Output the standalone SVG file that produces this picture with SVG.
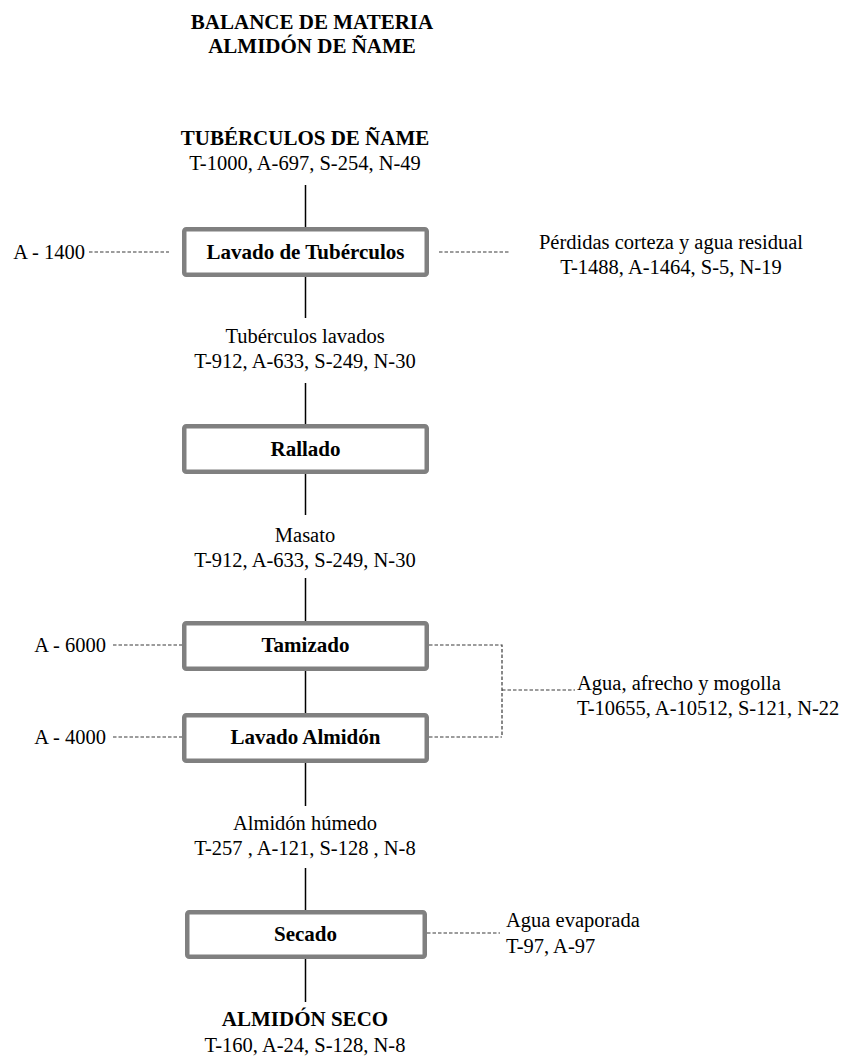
<svg xmlns="http://www.w3.org/2000/svg" width="843" height="1057" viewBox="0 0 843 1057">
<style>
text{font-family:"Liberation Serif","Times New Roman",serif;font-size:20.5px;fill:#000}
.b{font-weight:bold;font-size:21px}
.c{text-anchor:middle}
.e{text-anchor:end}
.box{fill:#fff;stroke:#808080;stroke-width:4.5}
.ln{stroke:#000;stroke-width:1.5;fill:none}
.ds{stroke:#3a3a3a;stroke-width:1.2;stroke-dasharray:3.5 2;fill:none}
</style>
<rect width="843" height="1057" fill="#fff"/>
<g id="title">
<text class="b c" x="312" y="29">BALANCE DE MATERIA</text>
<text class="b c" x="312" y="53">ALMIDÓN DE ÑAME</text>
</g>
<g id="connectors">
<path class="ln" d="M305.5 185V227M305.5 277V318M305.5 383V424M305.5 474V515M305.5 578V621M305.5 671V713M305.5 763V806M305.5 868V910M305.5 959V1002"/>
<path class="ds" d="M89 252H169M439 252H510M113 645H182M113 737H182M429 645H502V737M429 737H502M502 690H575M427 933H500"/>
</g>
<g id="input">
<text class="b c" x="305" y="145">TUBÉRCULOS DE ÑAME</text>
<text class="c" x="305" y="170">T-1000, A-697, S-254, N-49</text>
</g>
<g id="lavado-tuberculos">
<rect class="box" x="184.25" y="229.25" width="242.5" height="45.5" rx="2"/>
<text class="b c" x="305.5" y="259">Lavado de Tubérculos</text>
</g>
<g id="agua-1400"><text class="e" x="85" y="259">A - 1400</text></g>
<g id="perdidas">
<text class="c" x="671" y="249">Pérdidas corteza y agua residual</text>
<text class="c" x="671" y="274">T-1488, A-1464, S-5, N-19</text>
</g>
<g id="tuberculos-lavados">
<text class="c" x="305" y="343">Tubérculos lavados</text>
<text class="c" x="305" y="368">T-912, A-633, S-249, N-30</text>
</g>
<g id="rallado">
<rect class="box" x="184.25" y="426.25" width="242.5" height="45.5" rx="2"/>
<text class="b c" x="305.5" y="456">Rallado</text>
</g>
<g id="masato">
<text class="c" x="305" y="542">Masato</text>
<text class="c" x="305" y="567">T-912, A-633, S-249, N-30</text>
</g>
<g id="tamizado">
<rect class="box" x="184.25" y="623.25" width="242.5" height="45.5" rx="2"/>
<text class="b c" x="305.5" y="652">Tamizado</text>
</g>
<g id="agua-6000"><text class="e" x="106" y="652">A - 6000</text></g>
<g id="lavado-almidon">
<rect class="box" x="184.25" y="715.25" width="242.5" height="45.5" rx="2"/>
<text class="b c" x="305.5" y="744">Lavado Almidón</text>
</g>
<g id="agua-4000"><text class="e" x="106" y="744">A - 4000</text></g>
<g id="afrecho">
<text x="577" y="690">Agua, afrecho y mogolla</text>
<text x="577" y="715">T-10655, A-10512, S-121, N-22</text>
</g>
<g id="almidon-humedo">
<text class="c" x="305" y="830">Almidón húmedo</text>
<text class="c" x="305" y="855">T-257 , A-121, S-128 , N-8</text>
</g>
<g id="secado">
<rect class="box" x="187.25" y="912.25" width="237.5" height="44.5" rx="2"/>
<text class="b c" x="305.5" y="941">Secado</text>
</g>
<g id="agua-evaporada">
<text x="506" y="927">Agua evaporada</text>
<text x="506" y="953">T-97, A-97</text>
</g>
<g id="output">
<text class="b c" x="305" y="1026">ALMIDÓN SECO</text>
<text class="c" x="305" y="1052">T-160, A-24, S-128, N-8</text>
</g>
</svg>
